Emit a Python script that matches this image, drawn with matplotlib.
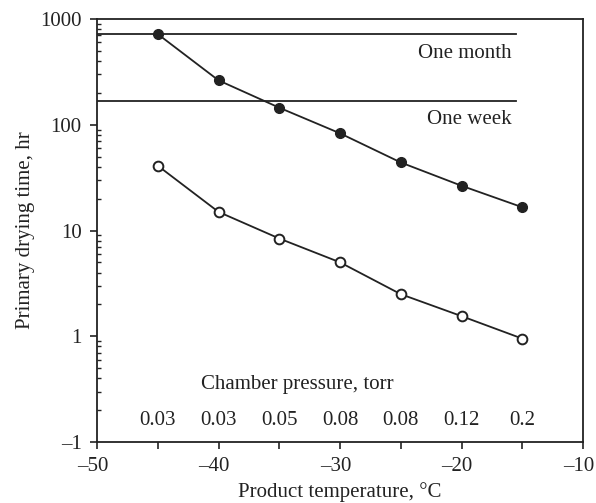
import numpy as np
import matplotlib
matplotlib.use("Agg")
import matplotlib.pyplot as plt
import matplotlib.transforms as mtransforms
from matplotlib.ticker import FixedLocator, LogLocator, NullFormatter

plt.rcParams['font.family'] = ['Liberation Serif', 'DejaVu Serif']
plt.rcParams['font.size'] = 15

# datos
temps = [-45, -40, -35, -30, -25, -20, -15]
time_filled = [720, 263, 145, 83, 44, 26.5, 16.6]
time_open = [41, 15.0, 8.4, 5.0, 2.5, 1.55, 0.95]
pressures = ['0.03', '0.03', '0.05', '0.08', '0.08', '0.12', '0.2']
one_month = 720
one_week = 168
ytick_vals = [0.1, 1, 10, 100, 1000]
ytick_labels = ['\u20131', '1', '10', '100', '1000']
xtick_vals = [-50, -40, -30, -20, -10]
xtick_labels = ['\u201350', '\u201340', '\u201330', '\u201320', '\u201310']

ink = '#222222'

fig = plt.figure(figsize=(5.96, 5.03), dpi=100)
ax = fig.add_axes([97/596, 61/503, 486/596, 423/503])

ax.set_yscale('log')
ax.set_xlim(-50, -10)
ax.set_ylim(0.1, 1000)

# lineas de referencia
ax.plot([-50, -15.5], [one_month, one_month], color=ink, lw=1.3)
ax.plot([-50, -15.5], [one_week, one_week], color=ink, lw=1.3)
ax.text(-15.9, 470, 'One month', ha='right', va='center', color=ink)
ax.text(-15.9, 112, 'One week', ha='right', va='center', color=ink)

ax.plot(temps, time_filled, '-o', color=ink, lw=1.3, ms=7,
        markerfacecolor=ink, markeredgecolor=ink, zorder=3)
ax.plot(temps, time_open, '-o', color=ink, lw=1.3, ms=7,
        markerfacecolor='white', markeredgecolor=ink, markeredgewidth=1.4, zorder=3)

ax.text(-33.5, 0.35, 'Chamber pressure, torr', ha='center', va='center', color=ink)
for t, p in zip(temps, pressures):
    ax.text(t, 0.16, p, ha='center', va='center', color=ink)

ax.yaxis.set_major_locator(FixedLocator(ytick_vals))
ax.set_yticklabels(ytick_labels)
ax.yaxis.set_minor_locator(LogLocator(base=10, subs=np.arange(2, 10)))
ax.yaxis.set_minor_formatter(NullFormatter())
ax.tick_params(axis='y', which='major', direction='out', length=5, width=1.2,
               colors=ink, pad=6)
ax.tick_params(axis='y', which='minor', direction='in', length=3, width=1, colors=ink)

ax.set_xticks(xtick_vals)
ax.set_xticklabels(xtick_labels)
ax.set_xticks([-45, -35, -25, -15], minor=True)
ax.tick_params(axis='x', which='both', direction='out', length=5, width=1.2,
               colors=ink, pad=6)
# los numeros quedan centrados en la marca, el guion cuelga a la izquierda
shift = mtransforms.ScaledTranslation(-4.5/100, 0, fig.dpi_scale_trans)
for lbl in ax.get_xticklabels():
    lbl.set_transform(lbl.get_transform() + shift)

for s in ax.spines.values():
    s.set_color(ink)
    s.set_linewidth(1.3)

ax.set_ylabel('Primary drying time, hr', color=ink, labelpad=4)
ax.set_xlabel('Product temperature, \u00b0C', color=ink, labelpad=4)

plt.savefig('out.png', dpi=100)
